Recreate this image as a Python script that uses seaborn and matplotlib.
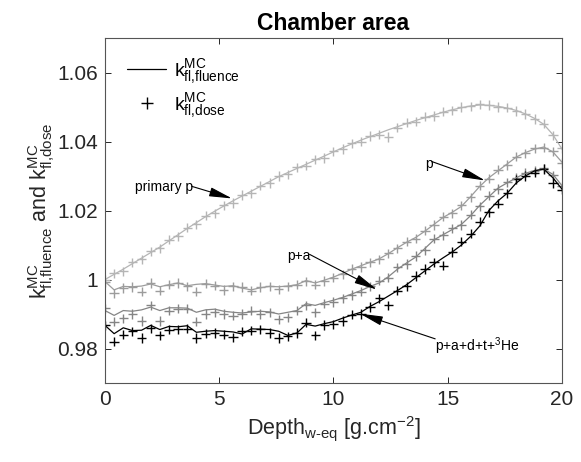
import numpy as np
import pandas as pd
import matplotlib
matplotlib.use('Agg')
import matplotlib.pyplot as plt
from matplotlib.lines import Line2D
import seaborn as sns

# depth grid [g/cm2]
depth = [0.0, 0.4, 0.8, 1.2, 1.6, 2.0, 2.4, 2.8, 3.2, 3.6,
         4.0, 4.4, 4.8, 5.2, 5.6, 6.0, 6.4, 6.8, 7.2, 7.6,
         8.0, 8.4, 8.8, 9.2, 9.6, 10.0, 10.4, 10.8, 11.2, 11.6,
         12.0, 12.4, 12.8, 13.2, 13.6, 14.0, 14.4, 14.8, 15.2, 15.6,
         16.0, 16.4, 16.8, 17.2, 17.6, 18.0, 18.4, 18.8, 19.2, 19.6, 20.0]

# k_fl,fluence (lines)
fluence_primary = [1.0000, 1.0015, 1.0030, 1.0046, 1.0062, 1.0078, 1.0094, 1.0112, 1.0130, 1.0148,
                   1.0165, 1.0182, 1.0198, 1.0213, 1.0228, 1.0242, 1.0256, 1.0270, 1.0284, 1.0298,
                   1.0310, 1.0322, 1.0334, 1.0346, 1.0358, 1.0370, 1.0382, 1.0393, 1.0404, 1.0414,
                   1.0424, 1.0434, 1.0443, 1.0452, 1.0461, 1.0469, 1.0477, 1.0485, 1.0492, 1.0498,
                   1.0503, 1.0506, 1.0505, 1.0502, 1.0497, 1.0490, 1.0480, 1.0467, 1.0450, 1.0420, 1.0378]
fluence_p = [0.9994, 0.9970, 0.9980, 0.9979, 0.9981, 0.9987, 0.9979, 0.9985, 0.9990, 0.9982,
             0.9986, 0.9988, 0.9984, 0.9980, 0.9982, 0.9975, 0.9970, 0.9976, 0.9980, 0.9979,
             0.9981, 0.9985, 0.9997, 0.9990, 0.9998, 1.0007, 1.0018, 1.0030, 1.0040, 1.0050,
             1.0060, 1.0075, 1.0092, 1.0108, 1.0122, 1.0140, 1.0160, 1.0180, 1.0195, 1.0212,
             1.0240, 1.0270, 1.0295, 1.0315, 1.0335, 1.0355, 1.0368, 1.0378, 1.0384, 1.0370, 1.0340]
fluence_pa = [0.9910, 0.9896, 0.9910, 0.9908, 0.9912, 0.9920, 0.9910, 0.9918, 0.9918, 0.9917,
              0.9905, 0.9912, 0.9914, 0.9908, 0.9905, 0.9903, 0.9906, 0.9908, 0.9906, 0.9900,
              0.9905, 0.9910, 0.9930, 0.9925, 0.9933, 0.9940, 0.9948, 0.9958, 0.9968, 0.9980,
              0.9990, 1.0008, 1.0030, 1.0048, 1.0065, 1.0090, 1.0115, 1.0130, 1.0145, 1.0160,
              1.0185, 1.0215, 1.0240, 1.0265, 1.0280, 1.0295, 1.0308, 1.0316, 1.0320, 1.0305, 1.0272]
fluence_all = [0.9867, 0.9843, 0.9860, 0.9852, 0.9853, 0.9867, 0.9855, 0.9864, 0.9863, 0.9866,
               0.9847, 0.9850, 0.9852, 0.9850, 0.9848, 0.9842, 0.9857, 0.9856, 0.9855, 0.9850,
               0.9838, 0.9845, 0.9870, 0.9865, 0.9872, 0.9878, 0.9888, 0.9897, 0.9905, 0.9922,
               0.9936, 0.9952, 0.9968, 0.9985, 1.0005, 1.0025, 1.0045, 1.0063, 1.0080, 1.0100,
               1.0125, 1.0155, 1.0200, 1.0228, 1.0250, 1.0280, 1.0300, 1.0315, 1.0320, 1.0295, 1.0262]

# k_fl,dose (markers)
dose_primary = [1.0000, 1.0018, 1.0024, 1.0050, 1.0058, 1.0082, 1.0090, 1.0115, 1.0125, 1.0150,
                1.0160, 1.0185, 1.0192, 1.0215, 1.0222, 1.0245, 1.0250, 1.0272, 1.0280, 1.0300,
                1.0305, 1.0325, 1.0330, 1.0348, 1.0352, 1.0372, 1.0378, 1.0395, 1.0400, 1.0416,
                1.0420, 1.0413, 1.0440, 1.0455, 1.0458, 1.0472, 1.0474, 1.0487, 1.0490, 1.0500,
                1.0502, 1.0508, 1.0506, 1.0500, 1.0498, 1.0488, 1.0480, 1.0465, 1.0452, 1.0418, 1.0380]
dose_p = [0.9992, 0.9960, 0.9975, 0.9978, 0.9965, 0.9990, 0.9968, 0.9985, 0.9990, 0.9980,
          0.9965, 0.9988, 0.9982, 0.9970, 0.9980, 0.9978, 0.9968, 0.9978, 0.9980, 0.9972,
          0.9980, 0.9985, 0.9995, 0.9985, 0.9996, 1.0005, 1.0015, 1.0030, 1.0036, 1.0050,
          1.0058, 1.0076, 1.0090, 1.0110, 1.0118, 1.0142, 1.0158, 1.0182, 1.0192, 1.0215,
          1.0238, 1.0272, 1.0292, 1.0318, 1.0332, 1.0356, 1.0366, 1.0380, 1.0382, 1.0372, 1.0338]
dose_pa = [0.9916, 0.9878, 0.9887, 0.9900, 0.9880, 0.9925, 0.9880, 0.9910, 0.9915, 0.9915,
           0.9878, 0.9900, 0.9905, 0.9900, 0.9895, 0.9900, 0.9910, 0.9900, 0.9905, 0.9885,
           0.9890, 0.9910, 0.9925, 0.9905, 0.9930, 0.9935, 0.9945, 0.9955, 0.9965, 0.9980,
           0.9997, 1.0005, 1.0035, 1.0045, 1.0068, 1.0085, 1.0118, 1.0128, 1.0148, 1.0158,
           1.0188, 1.0212, 1.0243, 1.0262, 1.0282, 1.0294, 1.0310, 1.0315, 1.0322, 1.0302, 1.0270]
dose_all = [0.9867, 0.9820, 0.9840, 0.9850, 0.9830, 0.9858, 0.9838, 0.9855, 0.9856, 0.9857,
            0.9830, 0.9843, 0.9845, 0.9840, 0.9832, 0.9850, 0.9852, 0.9856, 0.9845, 0.9830,
            0.9835, 0.9845, 0.9875, 0.9838, 0.9868, 0.9870, 0.9880, 0.9898, 0.9900, 0.9920,
            0.9945, 0.9925, 0.9968, 0.9980, 1.0010, 1.0030, 1.0050, 1.0040, 1.0080, 1.0110,
            1.0133, 1.0168, 1.0195, 1.0220, 1.0250, 1.0290, 1.0300, 1.0310, 1.0320, 1.0280, 1.0260]

groups = ['primary p', 'p', 'p+a', 'p+a+d+t+3He']
colors = ['#b5b5b5', '#9c9c9c', '#858585', '#000000']

rows = []
for g, fl, ds in zip(groups,
                     [fluence_primary, fluence_p, fluence_pa, fluence_all],
                     [dose_primary, dose_p, dose_pa, dose_all]):
    for d, f, k in zip(depth, fl, ds):
        rows.append({'depth': d, 'fluence': f, 'dose': k, 'group': g})
df = pd.DataFrame(rows)

sns.set_style('ticks')
plt.rcParams['font.family'] = ['Liberation Sans', 'DejaVu Sans']
plt.rcParams['mathtext.fontset'] = 'custom'
plt.rcParams['mathtext.rm'] = 'Liberation Sans'
plt.rcParams['text.color'] = 'black'
plt.rcParams['axes.labelcolor'] = '#262626'

fig = plt.figure(figsize=(5.81, 4.62), dpi=100)
ax = fig.add_axes([0.1807, 0.171, 0.7866, 0.7467])

pal = dict(zip(groups, colors))
sns.lineplot(data=df, x='depth', y='fluence', hue='group', palette=pal,
             linewidth=0.9, legend=False, ax=ax, sort=False)
sns.scatterplot(data=df, x='depth', y='dose', hue='group', palette=pal,
                marker='+', s=45, linewidth=1.0, legend=False, ax=ax)

ax.set_xlim(0, 20)
ax.set_ylim(0.97, 1.07)
ax.set_xticks([0, 5, 10, 15, 20])
ax.set_xticklabels(['0', '5', '10', '15', '20'])
ax.set_yticks([0.98, 1.0, 1.02, 1.04, 1.06])
ax.set_yticklabels(['0.98', '1', '1.02', '1.04', '1.06'])
ax.tick_params(direction='in', length=4, width=0.7, labelsize=15, colors='#262626',
               top=True, right=True, pad=5)
for sp in ax.spines.values():
    sp.set_visible(True)
    sp.set_color('#555555')
    sp.set_linewidth(0.8)

ax.set_title('Chamber area', fontsize=16.5, fontweight='bold', pad=6, color='black')
ax.set_xlabel('Depth$\\mathregular{_{w\u2010eq}}$ [g.cm$\\mathregular{^{-2}}$]', fontsize=15.5, labelpad=4)
ax.set_ylabel(r'$\mathregular{k^{MC}_{fl{,}fluence}}$ and $\mathregular{k^{MC}_{fl{,}dose}}$',
              fontsize=15.5, labelpad=0)

# legend
handles = [Line2D([], [], color='k', lw=0.9),
           Line2D([], [], color='k', lw=0, marker='+', markersize=8, markeredgewidth=1.0)]
labels = [r'$\mathregular{k^{MC}_{fl{,}fluence}}$', r'$\mathregular{k^{MC}_{fl{,}dose}}$']
ax.legend(handles, labels, loc='upper left', frameon=False, fontsize=14,
          handlelength=2.0, handletextpad=0.4, labelspacing=0.25,
          bbox_to_anchor=(0.01, 0.995))

# annotations
arrow = dict(arrowstyle='-|>,head_length=1.4,head_width=0.28', color='k', lw=0.8,
             mutation_scale=10, shrinkA=0, shrinkB=0)
ax.text(3.85, 1.0268, 'primary p', ha='right', va='center', fontsize=10)
ax.annotate('', xy=(5.56, 1.0235), xytext=(3.8, 1.0270), arrowprops=arrow)
ax.text(14.35, 1.0336, 'p', ha='right', va='center', fontsize=10)
ax.annotate('', xy=(16.63, 1.0287), xytext=(14.3, 1.0342), arrowprops=arrow)
ax.text(9.0, 1.0068, 'p+a', ha='right', va='center', fontsize=10)
ax.annotate('', xy=(11.9, 0.9971), xytext=(8.95, 1.0073), arrowprops=arrow)
ax.text(14.45, 0.9808, r'p+a+d+t+$\mathregular{^{3}}$He', ha='left', va='center', fontsize=10)
ax.annotate('', xy=(11.16, 0.9901), xytext=(14.45, 0.9828), arrowprops=arrow)

fig.savefig('out.png', dpi=100)
